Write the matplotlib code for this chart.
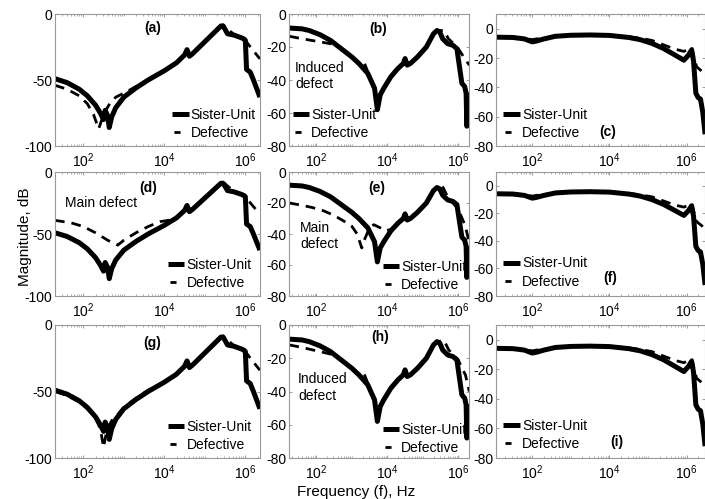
import matplotlib
matplotlib.use("Agg")
import matplotlib.pyplot as plt
from matplotlib.lines import Line2D
import numpy as np
from matplotlib.ticker import FixedLocator, LogLocator, LogFormatterSciNotation, NullFormatter

plt.rcParams['font.family'] = ['Liberation Sans', 'DejaVu Sans']
plt.rcParams['font.size'] = 10
plt.rcParams['mathtext.default'] = 'regular'
plt.rcParams['axes.unicode_minus'] = False

# frequencies are given as log10(f), magnitudes in dB
# left column (a, d, g)
su1_logf = [1.3, 1.6, 1.9, 2.1, 2.3, 2.42, 2.5, 2.54, 2.6, 2.64, 2.7, 2.8, 3.0, 3.3, 3.6, 4.0, 4.3, 4.5,
            4.56, 4.62, 4.7, 4.9, 5.1, 5.3, 5.4, 5.47, 5.56, 5.72, 5.9, 5.97, 6.0, 6.03, 6.12, 6.2, 6.36]
su1_db = [-49, -52, -57, -62, -69, -75, -80, -73, -77, -86, -78, -71, -63, -56, -50, -43, -37, -31,
          -27, -32, -30, -24, -18, -12, -9, -10, -15, -16, -18, -19, -20, -42, -44, -50, -63]

def_a_logf = [1.3, 1.6, 1.9, 2.1, 2.25, 2.38, 2.5, 2.65, 2.8, 3.0, 3.3, 3.6, 4.0, 4.3, 4.5, 4.56, 4.62,
              4.7, 4.9, 5.1, 5.3, 5.45, 5.55, 5.7, 5.9, 6.0, 6.15, 6.36]
def_a_db = [-54, -57, -62, -68, -76, -87, -76, -68, -63, -60, -55, -50, -43, -37, -31, -27, -31,
            -30, -24, -18, -12, -8, -11, -15, -18, -20, -26, -34]

def_d_logf = [1.3, 1.7, 2.0, 2.3, 2.6, 2.85, 3.0, 3.3, 3.6, 3.9, 4.1, 4.3, 4.5, 4.56, 4.62,
              4.7, 4.9, 5.1, 5.3, 5.45, 5.55, 5.7, 5.9, 6.0, 6.15, 6.36]
def_d_db = [-39, -41, -44, -49, -55, -59, -55, -49, -44, -40, -39, -37, -31, -27, -31,
            -30, -24, -18, -12, -8, -11, -15, -18, -20, -26, -34]

def_g_logf = [1.3, 1.6, 1.9, 2.1, 2.3, 2.42, 2.5, 2.58, 2.7, 2.8, 3.0, 3.3, 3.6, 4.0, 4.3, 4.5, 4.56,
              4.62, 4.7, 4.9, 5.1, 5.3, 5.45, 5.55, 5.7, 5.9, 6.0, 6.15, 6.36]
def_g_db = [-50, -53, -58, -63, -70, -78, -92, -79, -72, -69, -62, -55, -49, -43, -37, -31, -27,
            -31, -30, -24, -18, -12, -8, -11, -15, -18, -20, -26, -34]

# middle column (b, e, h)
su2_logf = [1.24, 1.6, 1.8, 2.1, 2.4, 2.7, 3.0, 3.2, 3.45, 3.64, 3.72, 3.8, 3.9, 4.1, 4.3, 4.45, 4.5,
            4.56, 4.65, 4.85, 5.1, 5.3, 5.4, 5.48, 5.56, 5.7, 5.85, 5.96, 6.04, 6.1, 6.18, 6.22,
            6.24, 6.27, 6.31]
su2_db = [-8.5, -9, -10, -12.5, -16, -21, -26, -30, -36, -45, -58, -49, -45, -38, -33, -30, -27,
          -31, -30, -26, -20, -12, -10, -11, -15, -18, -19, -21, -33, -42, -44, -48,
          -68, -50, -48]

def_b_logf = [1.24, 1.6, 2.0, 2.4, 2.7, 3.0, 3.2, 3.35, 3.45, 3.6, 3.72, 3.8, 3.9, 4.1, 4.3, 4.45,
              4.5, 4.56, 4.65, 4.85, 5.1, 5.3, 5.45, 5.6, 5.72, 5.87, 6.0, 6.15, 6.31]
def_b_db = [-13.5, -15, -16.5, -18, -21, -26, -30, -29.5, -35, -44, -56, -49, -45, -38, -33, -30,
            -27, -31, -30, -26, -20, -12, -10, -10, -15, -18, -21, -26, -31]

def_e_logf = [1.24, 1.6, 1.9, 2.2, 2.5, 2.8, 3.0, 3.15, 3.28, 3.35, 3.5, 3.62, 3.8, 3.95, 4.1, 4.3,
              4.45, 4.5, 4.56, 4.65, 4.85, 5.1, 5.3, 5.42, 5.54, 5.72, 5.85, 6.0, 6.2, 6.31]
def_e_db = [-20, -21.5, -23, -25, -28, -32, -35, -40, -49, -44, -36, -34, -36, -38, -37, -33,
            -30, -27, -31, -30, -26, -20, -12, -10, -8.6, -17, -20, -24, -35, -46]

def_h_logf = [1.24, 1.6, 2.0, 2.4, 2.7, 3.0, 3.2, 3.35, 3.45, 3.6, 3.72, 3.8, 3.9, 4.1, 4.3, 4.45,
              4.5, 4.56, 4.65, 4.85, 5.1, 5.3, 5.45, 5.59, 5.73, 5.86, 6.0, 6.1, 6.2, 6.31]
def_h_db = [-12, -13.5, -15.5, -17.5, -21, -26, -30, -29.5, -35, -44, -56, -49, -45, -38, -33, -30,
            -27, -31, -30, -26, -20, -12, -10, -9, -15, -18, -21, -26, -30, -40]

# right column (c, f, i)
su3_logf = [1.06, 1.5, 1.8, 2.0, 2.1, 2.3, 2.6, 3.0, 3.5, 4.0, 4.5, 4.8, 5.1, 5.4, 5.7, 5.93, 6.05,
            6.13, 6.18, 6.24, 6.3, 6.36, 6.42, 6.48]
su3_db = [-5.8, -6, -7, -9, -8.5, -7, -5.2, -4.5, -4.3, -4.6, -6, -7.5, -10, -13.5, -18, -21.5, -18,
          -14.5, -22, -44, -47, -48, -57, -72]

def_c_logf = [1.06, 1.5, 1.8, 2.0, 2.1, 2.3, 2.6, 3.0, 3.5, 4.0, 4.5, 4.8, 5.1, 5.4, 5.7, 5.93, 6.05,
              6.13, 6.2, 6.26, 6.35, 6.48]
def_c_db = [-5.5, -5.8, -6.5, -7.5, -7, -6.5, -5, -4.5, -4.3, -4.5, -5.5, -6.5, -8, -11, -14, -15.5, -14,
            -12.5, -20, -26, -28, -31]

labels = ['(a)', '(b)', '(c)', '(d)', '(e)', '(f)', '(g)', '(h)', '(i)']

W, H = 705.0, 499.0
FS = 10


def pix_axes(fig, x0, x1, top, bottom):
    return fig.add_axes([x0 / W, 1 - bottom / H, (x1 - x0) / W, (bottom - top) / H])


def panel(ax, su_logf, su_db, d_logf, d_db, xlim, ylim, yticks, tag, tag_xy, leg_xy):
    ax.plot(10 ** np.array(su_logf), su_db, color='k', lw=3.6, solid_joinstyle='round',
            solid_capstyle='butt')
    ax.plot(10 ** np.array(d_logf), d_db, color='k', lw=2.0, dashes=(3.5, 2.5))
    ax.set_xscale('log')
    ax.set_xlim(xlim)
    ax.set_ylim(ylim)
    ax.xaxis.set_major_locator(FixedLocator([1e2, 1e4, 1e6]))
    ax.xaxis.set_major_formatter(LogFormatterSciNotation())
    ax.xaxis.set_minor_locator(LogLocator(base=10, subs=np.arange(1, 10), numticks=50))
    ax.xaxis.set_minor_formatter(NullFormatter())
    ax.set_yticks(yticks)
    ax.tick_params(which='both', direction='in', top=True, right=True, color='0.55', labelcolor='k',
                   labelsize=FS)
    ax.tick_params(which='major', length=2.5, width=0.6)
    ax.tick_params(which='minor', length=1.5, width=0.5)
    ax.tick_params(axis='y', pad=2)
    ax.tick_params(axis='x', pad=4)
    for s in ax.spines.values():
        s.set_color('0.6')
        s.set_linewidth(0.8)
    ax.text(tag_xy[0], tag_xy[1], tag, transform=ax.transAxes, fontweight='bold', fontsize=FS,
            ha='center', va='center')
    h1 = Line2D([], [], color='k', lw=3.6, solid_capstyle='butt')
    h2 = Line2D([], [], color='k', lw=2.0, linestyle=(11.5, (2.2, 10)))
    ax.legend([h1, h2], ['Sister-Unit', 'Defective'], loc='lower left', bbox_to_anchor=leg_xy,
              frameon=False, borderaxespad=0, borderpad=0, handlelength=1.2, handletextpad=0.15,
              labelspacing=0.3, fontsize=FS)


def main():
    fig = plt.figure(figsize=(7.05, 4.99), dpi=100)

    cols = [(55, 260), (289, 469), (496, 705)]
    rows = [(14, 146), (172, 296), (325, 458)]

    xl1 = (20, 2.3e6)
    xl2 = (17, 2e6)
    xl3 = (11.5, 3e6)
    yt1 = [-100, -50, 0]
    yt2 = [-80, -60, -40, -20, 0]

    ax = pix_axes(fig, cols[0][0], cols[0][1], rows[0][0], rows[0][1])
    panel(ax, su1_logf, su1_db, def_a_logf, def_a_db, xl1, (-100, 0), yt1, labels[0], (0.478, 0.894), (0.57, 0.045))

    ax = pix_axes(fig, cols[1][0], cols[1][1], rows[0][0], rows[0][1])
    panel(ax, su2_logf, su2_db, def_b_logf, def_b_db, xl2, (-80, 0), yt2, labels[1], (0.494, 0.886), (0.02, 0.045))
    ax.text(0.033, 0.53, 'Induced\ndefect', transform=ax.transAxes, ha='left', va='center', fontsize=FS,
            linespacing=1.2)

    ax = pix_axes(fig, cols[2][0], cols[2][1], rows[0][0], rows[0][1])
    panel(ax, su3_logf, su3_db, def_c_logf, def_c_db, xl3, (-80, 10), yt2, labels[2], (0.536, 0.106), (0.035, 0.045))

    ax = pix_axes(fig, cols[0][0], cols[0][1], rows[1][0], rows[1][1])
    panel(ax, su1_logf, su1_db, def_d_logf, def_d_db, xl1, (-100, 0), yt1, labels[3], (0.454, 0.871), (0.55, 0.05))
    ax.text(0.049, 0.75, 'Main defect', transform=ax.transAxes, ha='left', va='center', fontsize=FS)

    ax = pix_axes(fig, cols[1][0], cols[1][1], rows[1][0], rows[1][1])
    panel(ax, su2_logf, su2_db, def_e_logf, def_e_db, xl2, (-80, 0), yt2, labels[4], (0.489, 0.871), (0.52, 0.03))
    ax.text(0.061, 0.484, 'Main\ndefect', transform=ax.transAxes, ha='left', va='center', fontsize=FS,
            linespacing=1.2)

    ax = pix_axes(fig, cols[2][0], cols[2][1], rows[1][0], rows[1][1])
    panel(ax, su3_logf, su3_db, def_c_logf, def_c_db, xl3, (-80, 10), yt2, labels[5], (0.545, 0.145), (0.035, 0.06))

    ax = pix_axes(fig, cols[0][0], cols[0][1], rows[2][0], rows[2][1])
    panel(ax, su1_logf, su1_db, def_g_logf, def_g_db, xl1, (-100, 0), yt1, labels[6], (0.473, 0.866), (0.55, 0.045))

    ax = pix_axes(fig, cols[1][0], cols[1][1], rows[2][0], rows[2][1])
    panel(ax, su2_logf, su2_db, def_h_logf, def_h_db, xl2, (-80, 0), yt2, labels[7], (0.506, 0.91), (0.52, 0.025))
    ax.text(0.05, 0.53, 'Induced\ndefect', transform=ax.transAxes, ha='left', va='center', fontsize=FS,
            linespacing=1.2)

    ax = pix_axes(fig, cols[2][0], cols[2][1], rows[2][0], rows[2][1])
    panel(ax, su3_logf, su3_db, def_c_logf, def_c_db, xl3, (-80, 10), yt2, labels[8], (0.579, 0.119), (0.035, 0.05))

    fig.text(25 / W, 1 - 237 / H, 'Magnitude, dB', rotation=90, ha='center', va='center', fontsize=11)
    fig.text(356 / W, 1 - 492 / H, 'Frequency (f), Hz', ha='center', va='center', fontsize=11)

    fig.savefig('out.png', dpi=100)
    plt.close(fig)


if __name__ == '__main__':
    main()
